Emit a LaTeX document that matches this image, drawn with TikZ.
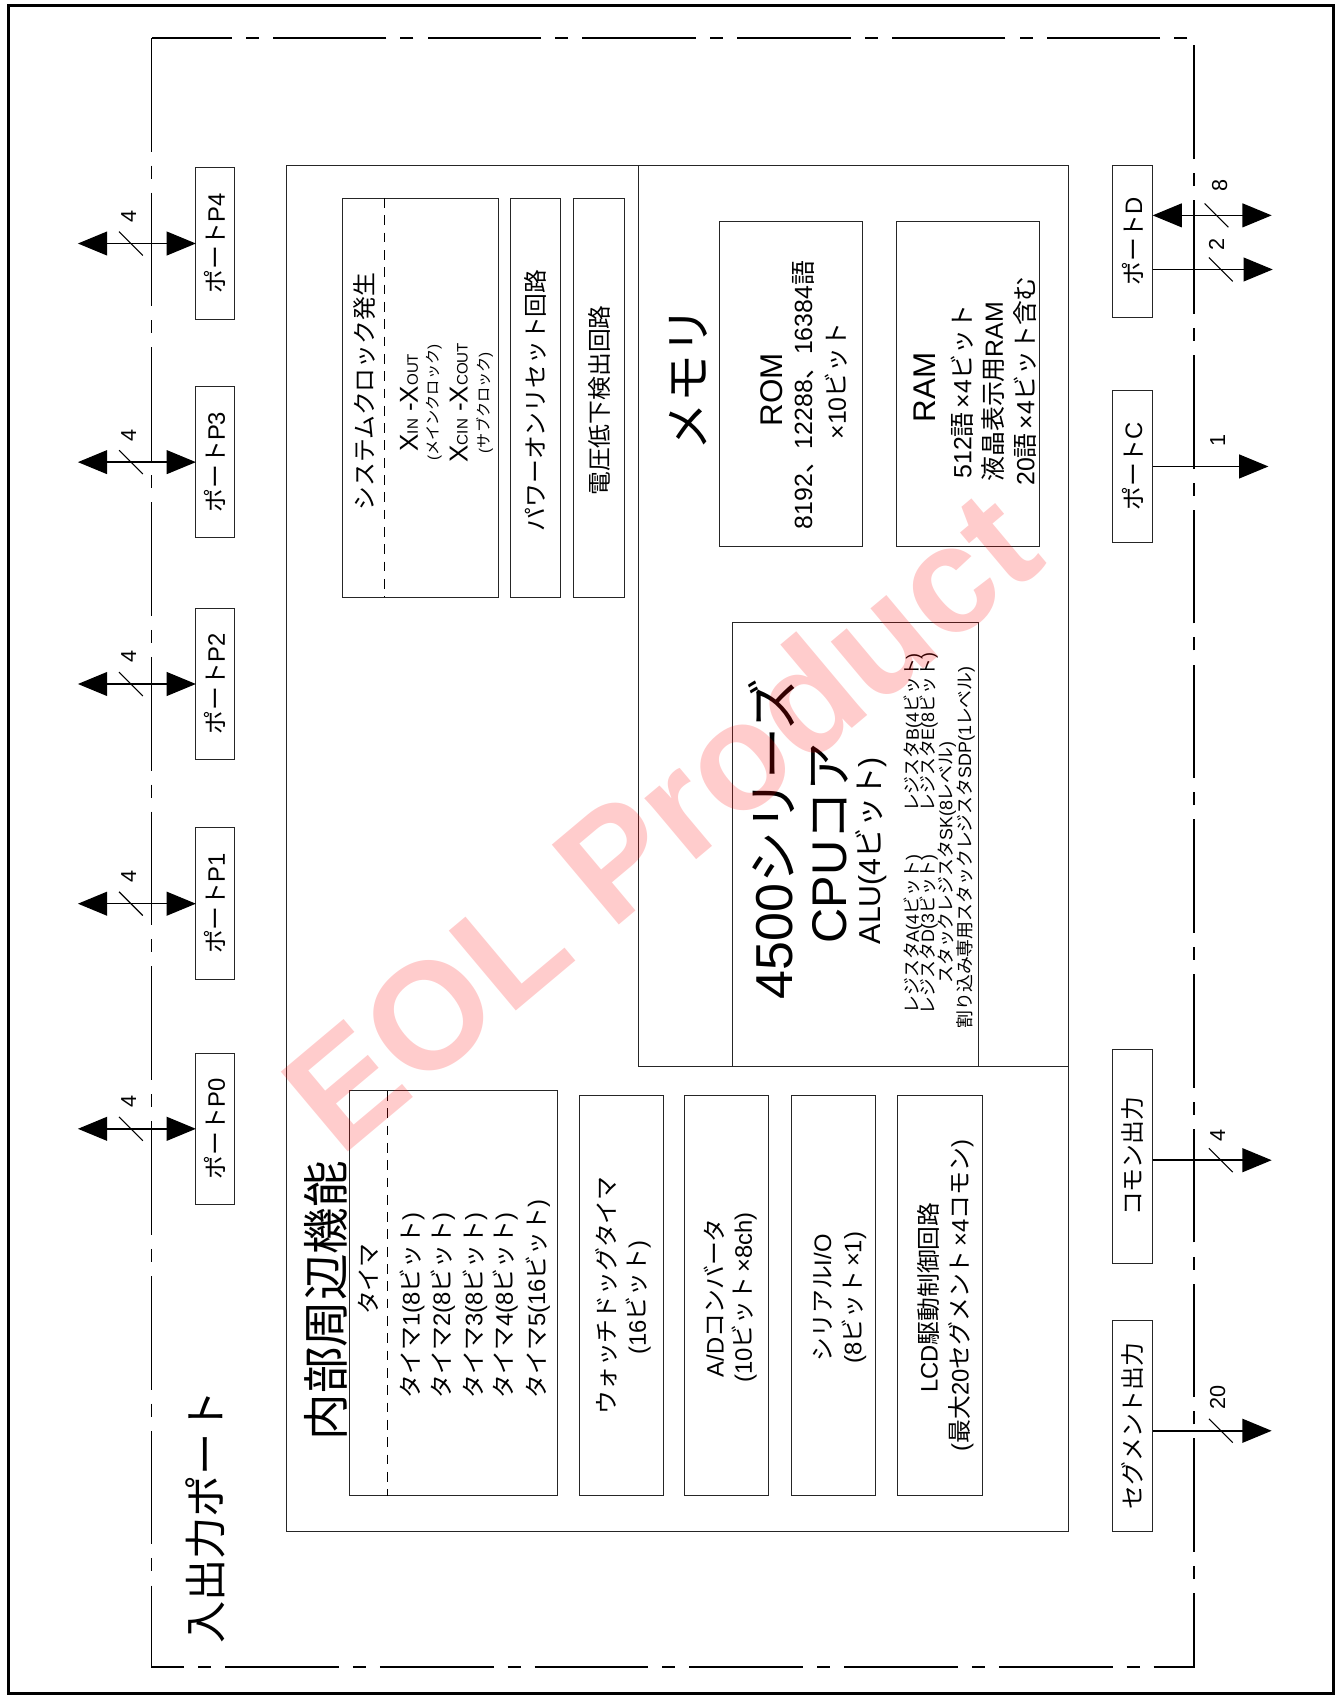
\documentclass[tikz,border=0pt]{standalone}
\usepackage{fontspec}
\setmainfont{Liberation Sans}
\newfontfamily\jpfont{Noto Sans CJK JP}
\usetikzlibrary{arrows.meta}
% automatic switch to the Japanese font for CJK characters
\XeTeXinterchartokenstate=1
\newXeTeXintercharclass\JPcls
\newcount\jpcnt
\newcommand\jprange[2]{\jpcnt=#1\relax
  \loop\XeTeXcharclass\jpcnt=\JPcls\relax
  \ifnum\jpcnt<#2\relax\advance\jpcnt by 1\relax\repeat}
\jprange{"3000}{"30FF}
\jprange{"4E00}{"9FFF}
\jprange{"FF00}{"FFEF}
\jpcnt="21\relax
\loop\XeTeXcharclass\jpcnt=0\relax\ifnum\jpcnt<"7E\relax\advance\jpcnt by 1\relax\repeat
\XeTeXcharclass"D7=0\relax
\XeTeXinterchartoks 0 \JPcls = {\begingroup\jpfont}
\XeTeXinterchartoks 4095 \JPcls = {\begingroup\jpfont}
\XeTeXinterchartoks \JPcls 0 = {\endgroup}
\XeTeXinterchartoks \JPcls 4095 = {\endgroup}
\newcommand\fsz[1]{\fontsize{#1}{#1}\selectfont}
\newcommand\tms{\,×}
\begin{document}
\begin{tikzpicture}[x=1pt,y=-1pt,
  bx/.style={draw=black!85, line width=0.9pt, inner sep=0pt, outer sep=0pt, anchor=north west},
  pbx/.style={draw=black!85, line width=0.9pt, inner sep=0pt, outer sep=0pt, anchor=center},
  rt/.style={rotate=90, inner sep=0pt, align=center},
  arr/.style={line width=1.4pt, -{Triangle[length=27pt,width=22pt]}},
  darr/.style={line width=1.4pt, {Triangle[length=27pt,width=22pt]}-{Triangle[length=27pt,width=22pt]}},
  slash/.style={line width=1pt},
  num/.style={rotate=90, inner sep=0pt, font=\fsz{20}},
  dsh/.style={line width=1pt, dash pattern=on 9pt off 7pt},
  thin/.style={line width=0.9pt, draw=black!85}]
\useasboundingbox (0,0) rectangle (1238,1568);
\fill[white] (0,0) rectangle (1238,1568);
% frames
\draw[line width=3pt] (8,5) rectangle (1232,1565);
\draw[line width=1.5pt, dash pattern=on 105pt off 13pt on 12pt off 13pt] (140,35) rectangle (1103,1540);
\node[rt,font=\fsz{39}] (ttl) at (190,1402) {入出力ポート};
% internal peripheral area
\node[bx,minimum width=722pt,minimum height=1262pt] (periph) at (265,153) {};
\draw[thin] (590,153) -- (590,985) -- (987,985);
\node[rt,font=\fsz{43}] (pttl) at (301,1202) {内部周辺機能};
\node[rt,font=\fsz{44}] (mttl) at (636,350) {メモリ};
% clock
\node[bx,minimum width=145pt,minimum height=369pt] (clk) at (316,183) {};
\draw[dsh] (355,183) -- (355,552);
\node[rt,font=\fsz{22}] (clk1) at (337,362) {システムクロック発生};
\node[rt,font=\fsz{24}] (clk2) at (378,372) {X{\fsz{14}IN} -X{\fsz{14}OUT}};
\node[rt,font=\fsz{14}] (clk3) at (401,372) {(メインクロック)};
\node[rt,font=\fsz{24}] (clk4) at (424,372) {X{\fsz{14}CIN} -X{\fsz{14}COUT}};
\node[rt,font=\fsz{14}] (clk5) at (448,372) {(サブクロック)};
\node[bx,minimum width=46pt,minimum height=369pt] (por) at (472,183) {};
\node[rt,font=\fsz{22}] (port) at (495,370) {パワーオンリセット回路};
\node[bx,minimum width=47pt,minimum height=369pt] (lvd) at (530,183) {};
\node[rt,font=\fsz{22}] (lvdt) at (554,370) {電圧低下検出回路};
% memory
\node[bx,minimum width=132pt,minimum height=300pt] (rom) at (665,205) {};
\node[rt,font=\fsz{29}] (rom1) at (713,360) {ROM};
\node[rt,font=\fsz{23}] (rom2) at (742,365) {8192、12288、16384語};
\node[rt,font=\fsz{23}] (rom3) at (773,352) {×10ビット};
\node[bx,minimum width=132pt,minimum height=300pt] (ram) at (828,205) {};
\node[rt,font=\fsz{29}] (ram1) at (854,358) {RAM};
\node[rt,font=\fsz{23}] (ram2) at (889,362) {512語\tms4ビット};
\node[rt,font=\fsz{23}] (ram3) at (918,362) {液晶表示用RAM};
\node[rt,font=\fsz{23}] (ram4) at (947,352) {20語\tms4ビット含む};
% CPU
\node[bx,minimum width=227pt,minimum height=410pt] (cpu) at (677,575) {};
\node[rt,font=\fsz{48}] (cpu1) at (713,775) {4500シリーズ};
\node[rt,font=\fsz{45}] (cpu2) at (767,779) {CPUコア};
\node[rt,font=\fsz{28}] (cpu3) at (805,786) {ALU(4ビット)};
\node[rt,font=\fsz{16.5}] (cpu4) at (844,770) {レジスタA(4ビット)\hspace{2.4em}レジスタB(4ビット)};
\node[rt,font=\fsz{16.5}] (cpu5) at (858,770) {レジスタD(3ビット)\hspace{2.4em}レジスタE(8ビット)};
\node[rt,font=\fsz{16.5}] (cpu6) at (875,797) {スタックレジスタSK(8レベル)};
\node[rt,font=\fsz{16.5}] (cpu7) at (892,783) {割り込み専用スタックレジスタSDP(1レベル)};
% lower boxes
\node[bx,minimum width=192pt,minimum height=374pt] (tmr) at (323,1008) {};
\draw[dsh] (358,1008) -- (358,1382);
\node[rt,font=\fsz{22}] (tm0) at (340,1182) {タイマ};
\node[rt,font=\fsz{22},anchor=west] (tm1) at (381,1292) {タイマ1(8ビット)};
\node[rt,font=\fsz{22},anchor=west] (tm2) at (409,1292) {タイマ2(8ビット)};
\node[rt,font=\fsz{22},anchor=west] (tm3) at (439,1292) {タイマ3(8ビット)};
\node[rt,font=\fsz{22},anchor=west] (tm4) at (467,1292) {タイマ4(8ビット)};
\node[rt,font=\fsz{22},anchor=west] (tm5) at (497,1292) {タイマ5(16ビット)};
\node[bx,minimum width=78pt,minimum height=370pt] (wdt) at (535,1012) {};
\node[rt,font=\fsz{22}] (wdt1) at (560,1197) {ウォッチドッグタイマ};
\node[rt,font=\fsz{22}] (wdt2) at (590,1199) {(16ビット)};
\node[bx,minimum width=78pt,minimum height=370pt] (adc) at (632,1012) {};
\node[rt,font=\fsz{22}] (adc1) at (660,1199) {A/Dコンバータ};
\node[rt,font=\fsz{22}] (adc2) at (688,1199) {(10ビット\tms8ch)};
\node[bx,minimum width=78pt,minimum height=370pt] (sio) at (731,1012) {};
\node[rt,font=\fsz{22}] (sio1) at (760,1199) {シリアルI/O};
\node[rt,font=\fsz{22}] (sio2) at (789,1199) {(8ビット\tms1)};
\node[bx,minimum width=79pt,minimum height=370pt] (lcd) at (829,1012) {};
\node[rt,font=\fsz{22}] (lcd1) at (858,1199) {LCD駆動制御回路};
\node[rt,font=\fsz{22}] (lcd2) at (888,1197) {(最大20セグメント\tms4コモン)};
% left ports
\foreach \n/\yy in {P4/225,P3/427,P2/632,P1/835,P0/1043}{
  \node[pbx,minimum width=36pt,minimum height=140pt] (\n) at (199,\yy) {};
  \node[rt,font=\fsz{22}] (\n t) at (\n.center) {ポート\n};
  \coordinate (\n L) at (72,\yy);
  \draw[darr] (\n L) -- (\n.west);
  \draw[slash] (110,\yy-11) -- (132,\yy+11);
  \node[num] (\n n) at (119,\yy-25) {4};
}
% right ports
\node[pbx,minimum width=37pt,minimum height=140pt] (PD) at (1046.5,223) {};
\node[rt,font=\fsz{22}] (PDt) at (PD.center) {ポートD};
\coordinate (DA) at (1175,199);
\coordinate (DB) at (1176,249);
\draw[darr] (PD.east |- DA) -- (DA);
\draw[arr] (PD.east |- DB) -- (DB);
\draw[slash] (1113,188) -- (1135,210);
\node[num] (DAn) at (1127,171) {8};
\draw[slash] (1117,238) -- (1139,260);
\node[num] (DBn) at (1124,226) {2};
\node[pbx,minimum width=37pt,minimum height=140pt] (PC) at (1046.5,431) {};
\node[rt,font=\fsz{22}] (PCt) at (PC.center) {ポートC};
\coordinate (CA) at (1172,431);
\draw[arr] (PC.east) -- (CA);
\node[num] (CAn) at (1125,407) {1};
\node[pbx,minimum width=37pt,minimum height=197pt] (COM) at (1046.5,1068.5) {};
\node[rt,font=\fsz{22}] (COMt) at (COM.center) {コモン出力};
\coordinate (MA) at (1175,1072);
\draw[arr] (COM.east |- MA) -- (MA);
\draw[slash] (1117,1061) -- (1139,1083);
\node[num] (MAn) at (1125,1049) {4};
\node[pbx,minimum width=37pt,minimum height=195pt] (SEG) at (1046.5,1317.5) {};
\node[rt,font=\fsz{22}] (SEGt) at (SEG.center) {セグメント出力};
\coordinate (SA) at (1175,1322);
\draw[arr] (SEG.east |- SA) -- (SA);
\draw[slash] (1117,1311) -- (1139,1333);
\node[num] (SAn) at (1125,1291) {20};
% watermark
\node[rotate=40, text=red, opacity=0.2, inner sep=0pt, font=\bfseries\fsz{140}] (wm) at (610,757) {EOL Product};
\end{tikzpicture}
\end{document}
